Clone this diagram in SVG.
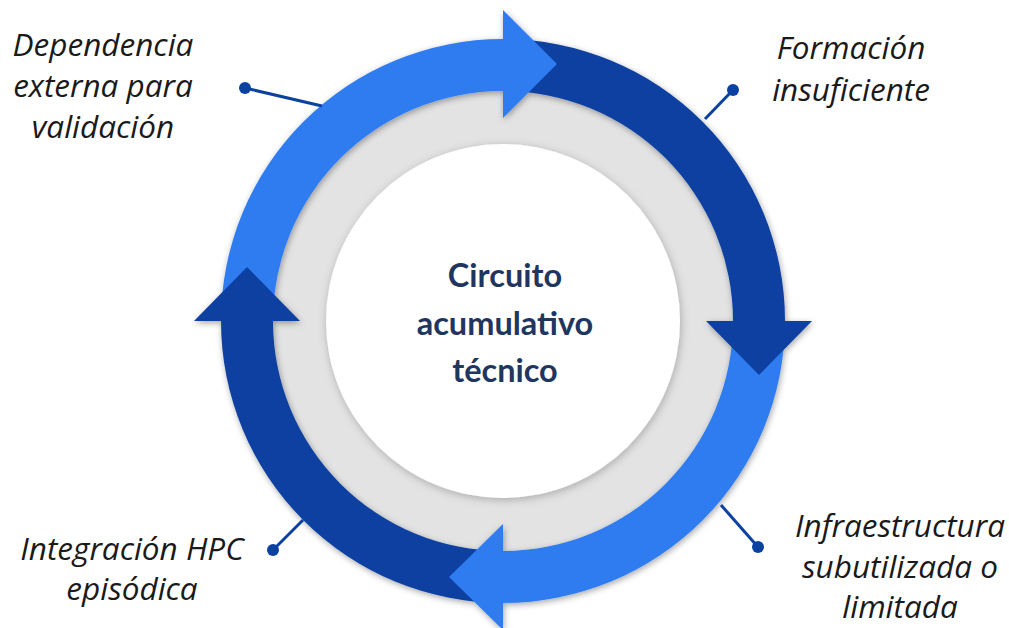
<svg xmlns="http://www.w3.org/2000/svg" width="1009" height="628" viewBox="0 0 1009 628">
  <defs>
    <filter id="sh" x="-10%" y="-10%" width="120%" height="120%">
      <feDropShadow dx="1" dy="2" stdDeviation="3" flood-color="#000" flood-opacity="0.35"/>
    </filter>
    <filter id="shw" x="-10%" y="-10%" width="120%" height="120%">
      <feDropShadow dx="1" dy="2" stdDeviation="4" flood-color="#000" flood-opacity="0.25"/>
    </filter>
    <style>
      .light { fill: #2e7cf0; }
      .dark { fill: #0b41a0; }
      .lbl { font-family: "Open Sans", Lato, sans-serif; font-style: italic; font-size: 31.5px; fill: #1a1a1a; text-anchor: middle; }
      .ctr { font-family: Lato, "Open Sans", sans-serif; font-weight: bold; font-size: 32.5px; fill: #1f3660; text-anchor: middle; }
      .conn line { stroke: #0b41a0; stroke-width: 3; }
      .conn circle { fill: #0b41a0; }
    </style>
  </defs>
  <rect width="1009" height="628" fill="#ffffff"/>

  <g id="core">
    <circle cx="503" cy="321" r="230" fill="#e3e3e3"/>
    <circle cx="503" cy="321" r="177" fill="#ffffff" filter="url(#shw)"/>
  </g>

  <g id="ring" filter="url(#sh)">
    <path id="band-tl" class="light" d="M221,321 A282,282 0 0 1 503,39 L503,91 A230,230 0 0 0 273,321 Z"/>
    <path id="band-tr" class="dark" d="M503,39 A282,282 0 0 1 785,321 L733,321 A230,230 0 0 0 503,91 Z"/>
    <path id="band-br" class="light" d="M785,321 A282,282 0 0 1 503,603 L503,551 A230,230 0 0 0 733,321 Z"/>
    <path id="band-bl" class="dark" d="M503,603 A282,282 0 0 1 221,321 L273,321 A230,230 0 0 0 503,551 Z"/>
    <polygon id="arrow-top" class="light" points="503,10 557,64 503,118"/>
    <polygon id="arrow-right" class="dark" points="812,321 759,375 706,321"/>
    <polygon id="arrow-bottom" class="light" points="503,630 449,577 503,524"/>
    <polygon id="arrow-left" class="dark" points="194,321 247,267 300,321"/>
  </g>

  <g id="center-node">
    <text class="ctr" x="505" y="287">Circuito</text>
    <text class="ctr" x="505" y="335">acumulativo</text>
    <text class="ctr" x="505" y="382">técnico</text>
  </g>

  <g id="connectors" class="conn">
    <line x1="245" y1="88" x2="322" y2="106"/>
    <circle cx="245" cy="88" r="6"/>
    <line x1="733" y1="90" x2="705" y2="119"/>
    <circle cx="733" cy="90" r="6"/>
    <line x1="721" y1="505" x2="758" y2="547"/>
    <circle cx="758" cy="547" r="6"/>
    <line x1="273" y1="550" x2="303" y2="520"/>
    <circle cx="273" cy="550" r="6"/>
  </g>

  <g id="label-dependencia">
    <text class="lbl" x="103" y="56">Dependencia</text>
    <text class="lbl" x="103" y="97">externa para</text>
    <text class="lbl" x="103" y="138">validación</text>
  </g>
  <g id="label-formacion">
    <text class="lbl" x="851" y="59">Formación</text>
    <text class="lbl" x="851" y="101">insuficiente</text>
  </g>
  <g id="label-infraestructura">
    <text class="lbl" x="900" y="537">Infraestructura</text>
    <text class="lbl" x="900" y="578">subutilizada o</text>
    <text class="lbl" x="900" y="618">limitada</text>
  </g>
  <g id="label-integracion">
    <text class="lbl" x="132" y="560">Integración HPC</text>
    <text class="lbl" x="132" y="600">episódica</text>
  </g>
</svg>
